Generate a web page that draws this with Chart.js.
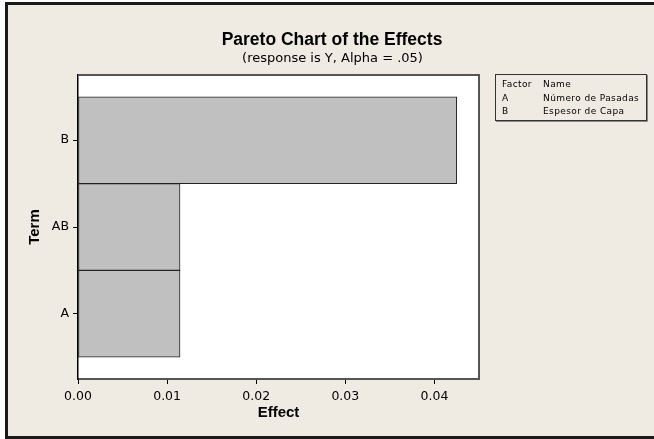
<!DOCTYPE html>
<html>
<head>
    <title>Pareto Chart of the Effects</title>
    <script src="https://cdn.jsdelivr.net/npm/chart.js@4.4.0/dist/chart.umd.min.js"></script>
    <style>
        body { margin: 0; background: #fff; }
    </style>
</head>
<body>
    <canvas id="chartCanvas" width="654" height="439"></canvas>

    <script>
        // Datos del gráfico
        const terms = ['B', 'AB', 'A'];
        const effects = [0.0425, 0.01145, 0.01145];
        const xTicks = [0, 0.01, 0.02, 0.03, 0.04];
        const legendRows = [['Factor', 'Name'], ['A', 'Número de Pasadas'], ['B', 'Espesor de Capa']];

        const boldFont = "'Liberation Sans', Arial, sans-serif";
        const font = "'DejaVu Sans', Verdana, sans-serif";

        // fondo, marco, títulos y cuadro de factores
        const decor = {
            id: 'decor',
            beforeDraw(chart) {
                const c = chart.ctx;
                const a = chart.chartArea;
                c.save();
                c.fillStyle = '#efebe2';
                c.fillRect(6, 3, chart.width, 435);
                c.strokeStyle = '#1a1a1a';
                c.lineWidth = 3;
                c.strokeRect(6.5, 3.5, chart.width + 10, 434);
                c.fillStyle = '#ffffff';
                c.fillRect(a.left, a.top, a.right - a.left, a.bottom - a.top);
                c.restore();
            },
            afterDraw(chart) {
                const c = chart.ctx;
                const a = chart.chartArea;
                c.save();
                c.strokeStyle = '#555';
                c.lineWidth = 2;
                c.beginPath();
                c.moveTo(a.left, a.top);
                c.lineTo(a.right, a.top);
                c.lineTo(a.right, a.bottom);
                c.stroke();

                c.fillStyle = '#000';
                c.textAlign = 'center';
                c.textBaseline = 'alphabetic';
                c.font = 'bold 17.5px ' + boldFont;
                c.fillText('Pareto Chart of the Effects', 332, 45);
                c.font = '13px ' + font;
                c.fillText('(response is Y, Alpha = .05)', 332.5, 62);

                // cuadro de factores
                c.strokeStyle = '#333';
                c.lineWidth = 1;
                c.strokeRect(495.5, 74.5, 151, 46);
                c.strokeStyle = '#888';
                c.beginPath();
                c.moveTo(647.5, 75);
                c.lineTo(647.5, 121.5);
                c.lineTo(496, 121.5);
                c.stroke();
                c.font = '9px ' + font;
                c.letterSpacing = '0.4px';
                c.textAlign = 'left';
                c.textBaseline = 'middle';
                legendRows.forEach((r, i) => {
                    c.fillText(r[0], 502, 85 + i * 13.5);
                    c.fillText(r[1], 543, 85 + i * 13.5);
                });
                c.restore();
            }
        };

        const ctx = document.getElementById('chartCanvas').getContext('2d');
        const chart = new Chart(ctx, {
            type: 'bar',
            data: {
                datasets: [{
                    data: terms.map((t, i) => ({ x: effects[i], y: terms.length - i })),
                    backgroundColor: '#c0c0c0',
                    borderColor: '#222',
                    borderWidth: 1,
                    borderSkipped: false,
                    barPercentage: 1,
                    categoryPercentage: 1,
                }],
            },
            options: {
                indexAxis: 'y',
                responsive: false,
                animation: false,
                layout: { padding: { top: 75, left: 20, right: 175, bottom: 0 } },
                plugins: {
                    legend: { display: false },
                    tooltip: { enabled: false },
                },
                scales: {
                    x: {
                        type: 'linear',
                        min: 0,
                        max: 0.045,
                        offset: false,
                        afterBuildTicks: s => { s.ticks = xTicks.map(v => ({ value: v })); },
                        afterFit: s => { s.height = 60; },
                        ticks: {
                            color: '#000',
                            padding: 5,
                            font: { family: font, size: 12.5 },
                            callback: v => v.toFixed(2),
                        },
                        grid: { drawOnChartArea: false, offset: false, tickLength: 5, color: '#000' },
                        border: { color: '#555', width: 2 },
                        title: {
                            display: true,
                            text: 'Effect',
                            color: '#000',
                            font: { family: boldFont, size: 15, weight: 'bold' },
                            padding: { top: 0, bottom: 17 },
                        },
                    },
                    y: {
                        type: 'linear',
                        min: 0.25,
                        max: 3.75,
                        offset: false,
                        afterBuildTicks: s => { s.ticks = terms.map((t, i) => ({ value: terms.length - i })); },
                        afterFit: s => { s.width = 58; },
                        ticks: {
                            color: '#000',
                            padding: 4,
                            font: { family: font, size: 12.5 },
                            callback: v => terms[terms.length - v],
                        },
                        grid: { drawOnChartArea: false, offset: false, tickLength: 5, color: '#000' },
                        border: { color: '#000', width: 1.5 },
                        title: {
                            display: true,
                            text: 'Term',
                            color: '#000',
                            font: { family: boldFont, size: 15, weight: 'bold' },
                            padding: { top: 6, bottom: 0 },
                        },
                    },
                },
            },
            plugins: [decor],
        });
    </script>
</body>
</html>
